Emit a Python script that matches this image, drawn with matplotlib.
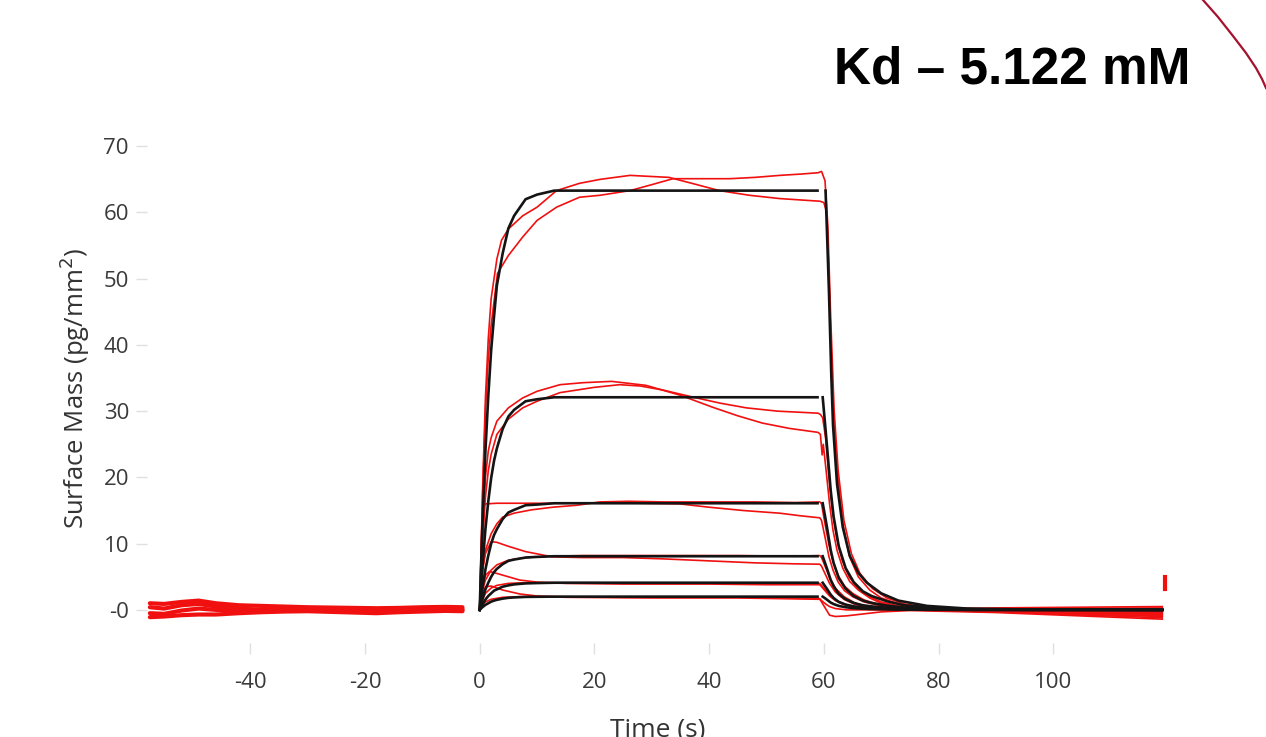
import matplotlib
matplotlib.use('Agg')
import matplotlib.pyplot as plt
from matplotlib.lines import Line2D

plt.rcParams.update({
    'font.family': ['Open Sans', 'DejaVu Sans'],
    'font.size': 14,
    'axes.unicode_minus': False,
})

# ── Data ────────────────────────────────────────────────────────────────
# pre-injection baseline (noisy band, several overlapping traces)
base_t = [-57.5, -55, -52, -49, -46, -42, -38, -34, -30, -26, -22, -18, -14, -10, -6, -3]
base_1 = [1.0, 0.9, 1.2, 1.4, 1.0, 0.7, 0.6, 0.5, 0.4, 0.35, 0.3, 0.25, 0.3, 0.4, 0.45, 0.4]
base_2 = [-1.1, -1.0, -0.8, -0.7, -0.7, -0.5, -0.35, -0.25, -0.2, -0.3, -0.4, -0.5, -0.35, -0.25, -0.15, -0.2]
base_3 = [0.4, 0.2, 0.7, 0.9, 0.5, 0.2, 0.0, 0.1, 0.0, -0.1, 0.0, -0.2, -0.1, 0.1, 0.0, 0.1]
base_4 = [-0.5, -0.6, -0.1, 0.2, 0.0, -0.1, -0.1, -0.1, -0.1, 0.0, -0.2, -0.3, -0.2, 0.0, 0.1, 0.0]

# measured traces (red): time, surface mass
red_a_t = [0, 0.5, 1, 1.5, 2, 3, 3.8, 5, 7.5, 10, 13.4, 17.4, 21, 26.2, 33, 37, 41.8, 47, 52.3, 59.3,
           60.0, 60.5, 61.0, 61.6, 62.3, 63.3, 64.5, 66, 68, 70, 73, 78, 85, 95, 105, 119]
red_a_y = [0, 18, 32, 41, 47, 53, 55.8, 57.5, 59.5, 60.8, 63.3, 64.4, 65, 65.6, 65.3, 64.4, 63.3, 62.6, 62.1, 61.7,
           61.5, 60, 47, 30, 21, 13, 8, 5, 3, 1.8, 0.9, 0.3, 0.1, -0.1, -0.3, -0.4]
red_b_t = [0, 0.5, 1, 1.5, 2, 3.1, 5, 7.5, 10, 13.4, 17.4, 21, 26.2, 30, 33.7, 38, 43.6, 48, 52.3, 56, 59,
           59.6, 60.2, 60.7, 61.2, 61.8, 62.5, 63.5, 64.8, 66.3, 68.5, 71, 74, 79, 88, 100, 110, 119]
red_b_y = [0, 17, 30, 38, 43, 50.8, 53.5, 56.3, 58.8, 60.8, 62.3, 62.6, 63.3, 64.2, 65.1, 65.1, 65.1, 65.3, 65.6, 65.8, 66.0,
           66.2, 64.8, 58, 44, 30, 21, 13.5, 8.5, 5.5, 3.2, 1.8, 0.9, 0.3, 0, -0.4, -0.6, -0.7]
red_c_t = [0, 0.5, 1, 1.5, 2, 3, 5, 7.5, 10, 14, 18, 23, 29, 35, 40.6, 45, 49.3, 54, 59,
           59.4, 59.7, 59.9, 60.4, 61.0, 61.6, 62.3, 63.3, 64.5, 66, 68, 70, 73, 78, 85, 95, 105, 119]
red_c_y = [0, 12, 20, 24, 26, 28.5, 30.5, 32, 33, 34, 34.3, 34.5, 33.9, 32.4, 30.6, 29.3, 28.2, 27.4, 26.8,
           26.5, 23.4, 25, 21, 16, 12, 9, 6.3, 4.3, 3, 1.8, 1.0, 0.5, 0.2, 0, -0.3, -0.6, -0.9]
red_d_t = [0, 0.5, 1, 1.5, 2, 3, 5, 7.5, 10, 14, 20, 24.4, 28, 31.9, 37.8, 42, 46.5, 52, 59,
           59.4, 59.8, 60.3, 60.9, 61.5, 62.2, 63.2, 64.4, 66, 68, 70, 73, 78, 85, 95, 105, 119]
red_d_y = [0, 10, 17, 21, 23.5, 26.5, 28.8, 30.5, 31.5, 32.8, 33.6, 34.0, 33.8, 33.2, 32, 31.2, 30.5, 30, 29.7,
           29.5, 29.0, 26, 20, 15, 11, 7.5, 5, 3.2, 2, 1.2, 0.6, 0.2, 0.0, -0.2, -0.4, -0.6]
red_e_t = [0, 0.3, 0.6, 1, 3, 8, 15, 22, 28, 34.9, 40, 46, 52.3, 56, 59.3,
           59.6, 60.2, 60.9, 61.6, 62.5, 63.6, 65, 67, 70, 75, 85, 100, 119]
red_e_y = [0, 10, 15.5, 16.0, 16.1, 16.1, 16.1, 16.2, 16.1, 16.0, 15.5, 15.0, 14.6, 14.2, 13.9,
           13.5, 11, 8, 6, 4.2, 2.9, 2, 1.2, 0.6, 0.2, 0, -0.3, -0.5]
red_f_t = [0, 0.5, 1, 2, 3, 4, 6, 9, 12.7, 17, 21, 26, 32, 40, 48, 55, 59.3,
           59.6, 60.2, 60.9, 61.6, 62.5, 63.6, 65, 67, 70, 75, 85, 100, 119]
red_f_y = [0, 6, 9, 11.5, 13, 14, 14.6, 15.1, 15.5, 15.8, 16.3, 16.4, 16.3, 16.3, 16.3, 16.2, 16.3,
           16.0, 13, 9.8, 7.3, 5.2, 3.6, 2.5, 1.5, 0.7, 0.2, 0.1, 0, -0.2]
red_g_t = [0, 0.5, 1, 2, 3, 5, 8, 12.7, 18, 25, 32, 40, 48, 55, 59.3,
           59.6, 60.3, 61, 62, 63.5, 65.5, 68, 72, 85, 100, 119]
red_g_y = [0, 6, 8.5, 10.3, 10.2, 9.6, 8.8, 8.0, 7.9, 7.9, 7.7, 7.4, 7.1, 6.95, 6.9,
           6.6, 5.3, 4.0, 2.7, 1.6, 0.8, 0.3, 0.1, -0.2, -0.5, -1.0]
red_h_t = [0, 0.5, 1, 2, 3, 5, 8, 12, 18, 25, 35, 45, 55, 59.3,
           59.6, 60.3, 61, 62, 63.5, 65.5, 68, 72, 85, 100, 119]
red_h_y = [0, 3, 4.5, 6, 6.8, 7.5, 7.9, 8.1, 8.2, 8.2, 8.2, 8.2, 8.1, 8.2,
           7.9, 6.4, 4.9, 3.3, 2.0, 1.0, 0.4, 0.1, 0, 0.2, 0.3]
red_i_t = [0, 0.5, 1, 1.7, 3, 5, 7, 10, 15, 25, 40, 50, 59.3,
           59.6, 60.3, 61, 62, 63.5, 65.5, 68, 75, 90, 119]
red_i_y = [0, 3.5, 5.2, 5.8, 5.5, 5.0, 4.5, 4.2, 4.0, 3.9, 3.9, 3.8, 3.8,
           3.5, 2.8, 2.1, 1.4, 0.8, 0.4, 0.1, 0, -0.3, -1.2]
red_j_t = [0, 0.5, 1, 2, 3, 5, 8, 12, 20, 30, 45, 59.3,
           59.6, 60.3, 61, 62, 63.5, 65.5, 68, 75, 90, 119]
red_j_y = [0, 1.5, 2.5, 3.3, 3.7, 4.0, 4.1, 4.1, 4.1, 4.0, 4.0, 4.0,
           3.7, 3.0, 2.3, 1.5, 0.9, 0.4, 0.2, 0.1, 0.3, 0.5]
red_k_t = [0, 0.5, 1, 2, 4, 7, 10, 15, 30, 45, 59.3,
           59.6, 60.3, 61, 62, 64, 67, 70, 75, 90, 119]
red_k_y = [0, 2.5, 3.5, 3.6, 3.0, 2.4, 2.1, 1.9, 1.8, 1.8, 1.6,
           1.2, 0.2, -0.8, -1.0, -0.9, -0.6, -0.3, -0.1, -0.4, -1.4]
red_l_t = [0, 0.5, 1, 2, 4, 7, 12, 25, 45, 59.3,
           59.6, 60.3, 61, 62, 64, 70, 90, 119]
red_l_y = [0, 0.8, 1.2, 1.6, 1.9, 2.0, 2.0, 1.9, 1.9, 1.7,
           1.4, 0.9, 0.5, 0.2, 0, 0, -0.1, -0.2]

# stray point at the end of the run
spike_t = [119.4, 119.4]
spike_y = [3.2, 4.9]

# fitted curves (black): association phase
fit_on_t = [0, 0.25, 0.5, 1, 1.5, 2, 2.5, 3, 4, 5, 6, 8, 10, 13, 58.9]
fit_on_1 = [0, 7, 13.3, 24, 32.3, 39.2, 44.3, 49, 53.8, 57.6, 59.5, 62, 62.7, 63.3, 63.3]
fit_on_2 = [0, 3.5, 6.7, 12.2, 16.4, 19.9, 22.5, 24.4, 27.3, 29.2, 30.2, 31.5, 31.8, 32.1, 32.1]
fit_on_3 = [0, 1.8, 3.4, 6.1, 8.2, 10, 11.3, 12.2, 13.7, 14.7, 15.1, 15.8, 15.9, 16.1, 16.1]
fit_on_4 = [0, 0.9, 1.7, 3.1, 4.1, 5, 5.7, 6.2, 6.9, 7.4, 7.6, 7.9, 8.0, 8.1, 8.1]
fit_on_5 = [0, 0.45, 0.86, 1.56, 2.1, 2.5, 2.9, 3.1, 3.5, 3.7, 3.85, 4.0, 4.05, 4.1, 4.1]
fit_on_6 = [0, 0.22, 0.42, 0.76, 1.0, 1.24, 1.4, 1.52, 1.7, 1.82, 1.88, 1.96, 1.98, 2.0, 2.0]

# fitted curves (black): dissociation phase
fit_off_t1 = [60.3, 60.6, 60.9, 61.3, 61.6, 62.3, 63.3, 64.5, 66, 67.5, 70, 73, 78, 85, 95, 119]
fit_off_1 = [63.3, 55.7, 47.8, 35.4, 27.9, 19, 12.5, 8.2, 5.6, 4.1, 2.5, 1.4, 0.6, 0.2, 0.06, 0]
fit_off_t = [59.8, 60.2, 60.6, 61.2, 61.7, 62.6, 63.8, 65.2, 66.8, 68.3, 71, 74, 79, 86, 96, 119]
fit_off_2 = [32.1, 28.2, 24.2, 18, 14.1, 9.6, 6.3, 4.2, 2.8, 2.1, 1.3, 0.7, 0.3, 0.1, 0.03, 0]
fit_off_3 = [16.1, 14.2, 12.2, 9, 7.1, 4.8, 3.2, 2.1, 1.4, 1.05, 0.64, 0.35, 0.14, 0.05, 0.02, 0]
fit_off_4 = [8.1, 7.1, 6.1, 4.5, 3.6, 2.4, 1.6, 1.05, 0.7, 0.53, 0.32, 0.18, 0.07, 0.02, 0, 0]
fit_off_5 = [4.1, 3.6, 3.1, 2.3, 1.8, 1.2, 0.8, 0.53, 0.36, 0.27, 0.16, 0.09, 0.04, 0.01, 0, 0]
fit_off_6 = [2.0, 1.76, 1.5, 1.1, 0.88, 0.6, 0.4, 0.26, 0.18, 0.13, 0.08, 0.04, 0.02, 0, 0, 0]

y_ticks = [0, 10, 20, 30, 40, 50, 60, 70]
y_tick_labels = ['-0', '10', '20', '30', '40', '50', '60', '70']
x_ticks = [-40, -20, 0, 20, 40, 60, 80, 100]

RED = '#f01010'
BLACK = '#141414'

fig = plt.figure(figsize=(12.66, 7.37), dpi=100)
ax = fig.add_axes([147 / 1266, (737 - 643) / 737, 1021 / 1266, 510 / 737])

# baseline band
for b in (base_1, base_2, base_3, base_4):
    ax.plot(base_t, b, '-', color=RED, lw=3.0, solid_capstyle='round')

reds = [(red_a_t, red_a_y), (red_b_t, red_b_y), (red_c_t, red_c_y), (red_d_t, red_d_y),
        (red_e_t, red_e_y), (red_f_t, red_f_y), (red_g_t, red_g_y), (red_h_t, red_h_y),
        (red_i_t, red_i_y), (red_j_t, red_j_y), (red_k_t, red_k_y), (red_l_t, red_l_y)]
for t, y in reds:
    ax.plot(t, y, '-', color=RED, lw=1.2, zorder=2)
ax.plot(spike_t, spike_y, '-', color=RED, lw=3)

for y in (fit_on_1, fit_on_2, fit_on_3, fit_on_4, fit_on_5, fit_on_6):
    ax.plot(fit_on_t, y, '-', color=BLACK, lw=1.9, zorder=3)
ax.plot(fit_off_t1, fit_off_1, '-', color=BLACK, lw=1.9, zorder=3)
for y in (fit_off_2, fit_off_3, fit_off_4, fit_off_5, fit_off_6):
    ax.plot(fit_off_t, y, '-', color=BLACK, lw=1.9, zorder=3)

ax.set_xlim(-58, 120)
ax.set_ylim(-5, 72)
for s in ax.spines.values():
    s.set_visible(False)
ax.set_xticks(x_ticks)
ax.set_yticks(y_ticks)
ax.set_yticklabels(y_tick_labels)
ax.tick_params(axis='both', colors='#e0e0e0', labelcolor='#3a3a3a',
               labelsize=16, length=8, width=1)
ax.tick_params(axis='x', pad=13)
ax.tick_params(axis='y', pad=5)
ax.set_ylabel('Surface Mass (pg/mm$^2$)', fontsize=18.5, color='#333333')
ax.yaxis.set_label_coords(-0.054, 0.5)
ax.set_xlabel('Time (s)', fontsize=19, color='#333333')
ax.xaxis.set_label_coords(0.5, -0.147)

# slide title and decoration
fig.text(1190 / 1266, 1 - 70 / 737, 'Kd \u2013 5.122 mM', ha='right', va='center',
         fontsize=37, fontweight='bold', family=['Liberation Sans', 'DejaVu Sans'],
         color='black')
arc_x = [1203, 1218, 1233, 1246, 1256, 1262, 1266]
arc_y = [0, 17, 36, 53, 68, 79, 88]
fig.add_artist(Line2D([x / 1266 for x in arc_x], [1 - y / 737 for y in arc_y],
                      transform=fig.transFigure, color='#a3122e', lw=1.6))

fig.savefig('out.png', dpi=100)
